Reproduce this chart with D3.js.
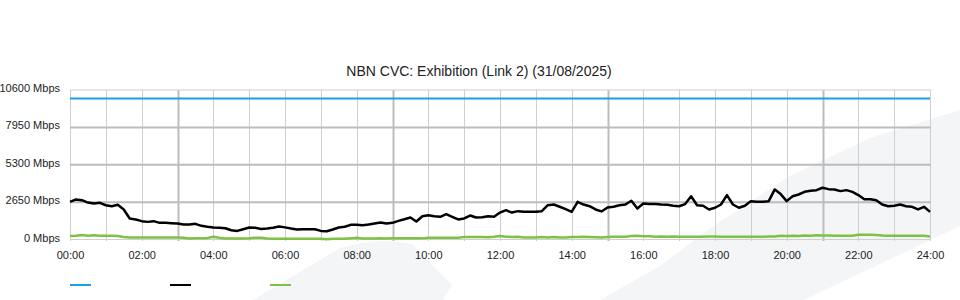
<!DOCTYPE html>
<html>
    <head>
        <meta charset="utf-8">
        <title>NBN CVC: Exhibition (Link 2)</title>
        <script src="https://cdn.jsdelivr.net/npm/d3@7"></script>
        <style>
            body { margin: 0; background: #fff; }
            text { font-family: "Liberation Sans", Arial, sans-serif; fill: #222; }
            .axis path { display: none; }
            .axis line { stroke: #c8c8c8; }
        </style>
    </head>
    <body>
        <div id="chart"></div>
        <script>
            var width = 960, height = 300;
            var plotLeft = 70, plotRight = 930, plotTop = 90, plotBottom = 239.5;

            // y axis ticks (Mbps)
            var yTicks = [0, 2650, 5300, 7950, 10600];
            // x axis ticks (hours) and labels
            var xTicks = [0, 2, 4, 6, 8, 10, 12, 14, 16, 18, 20, 22, 24];
            var xLabels = ["00:00", "02:00", "04:00", "06:00", "08:00", "10:00", "12:00",
                "14:00", "16:00", "18:00", "20:00", "22:00", "24:00"];

            // link capacity (Mbps)
            var capacity = [10000, 10000];

            // 10 minute samples from 00:00 to 24:00 (Mbps)
            var trafficIn = [
                2670, 2840, 2790, 2620, 2550, 2600,
                2430, 2360, 2460, 2130, 1490, 1420,
                1300, 1250, 1300, 1180, 1180, 1160,
                1130, 1060, 1060, 1110, 970, 900,
                850, 830, 800, 660, 610, 730,
                850, 830, 750, 780, 830, 920,
                860, 780, 710, 730, 730, 730,
                610, 590, 710, 850, 900, 1040,
                1040, 1010, 1060, 1130, 1200, 1130,
                1180, 1320, 1440, 1560, 1280, 1650,
                1720, 1650, 1610, 1800, 1610, 1420,
                1490, 1700, 1560, 1580, 1650, 1610,
                1910, 2080, 1910, 2010, 1960, 1960,
                1960, 2010, 2430, 2480, 2320, 2150,
                1960, 2670, 2480, 2360, 2130, 1990,
                2270, 2320, 2430, 2480, 2750, 2200,
                2550, 2510, 2510, 2480, 2460, 2390,
                2360, 2510, 3070, 2430, 2390, 2130,
                2250, 2480, 3150, 2480, 2250, 2390,
                2720, 2670, 2670, 2720, 3550, 3220,
                2720, 3070, 3190, 3380, 3450, 3500,
                3670, 3570, 3550, 3430, 3500, 3380,
                3150, 2860, 2860, 2790, 2480, 2360,
                2390, 2480, 2360, 2320, 2130, 2320,
                1960
            ];

            var trafficOut = [
                250, 260, 320, 260, 300, 260,
                260, 260, 250, 180, 150, 150,
                150, 150, 150, 150, 140, 140,
                140, 130, 70, 90, 80, 110,
                190, 120, 70, 70, 70, 70,
                90, 130, 130, 70, 60, 60,
                60, 60, 60, 60, 60, 60,
                50, 10, 50, 60, 60, 80,
                120, 70, 70, 70, 80, 70,
                80, 80, 80, 80, 80, 80,
                120, 120, 120, 130, 130, 130,
                180, 180, 180, 180, 160, 200,
                250, 200, 180, 200, 140, 140,
                150, 170, 140, 170, 140, 140,
                170, 170, 190, 180, 160, 140,
                170, 200, 200, 200, 250, 260,
                230, 230, 200, 210, 200, 210,
                200, 190, 190, 190, 200, 220,
                210, 200, 190, 200, 200, 200,
                200, 200, 200, 220, 220, 260,
                240, 270, 250, 280, 270, 300,
                280, 280, 270, 260, 270, 270,
                330, 330, 330, 320, 280, 270,
                260, 270, 270, 270, 270, 260,
                210
            ];

            var svg = d3.select("#chart")
                .append("svg")
                .attr("width", width)
                .attr("height", height);

            // faint watermark shapes in the background
            svg.append("path")
                .attr("d", "M253,300 L340,248 Q376,237 412,244 L452,285 L443,300 Z")
                .attr("fill", "#f4f5f7");
            svg.append("path")
                .attr("d", "M600,300 L660,266 L712,227 L790,176 L870,138 L960,110 L960,226 L804,300 Z")
                .attr("fill", "#f4f5f7");

            var xScale = d3.scaleLinear()
                .domain([0, 24])
                .range([plotLeft, plotRight]);

            var yScale = d3.scaleLinear()
                .domain([0, 10600])
                .range([plotBottom, plotTop]);

            // vertical grid, every hour (heavier every 6h from 03:00)
            svg.append("g")
                .selectAll("line")
                .data(d3.range(0, 25))
                .enter()
                .append("line")
                .attr("x1", function (d) { return Math.round(xScale(d)) + 0.5; })
                .attr("x2", function (d) { return Math.round(xScale(d)) + 0.5; })
                .attr("y1", plotTop)
                .attr("y2", plotBottom + 1.5)
                .attr("stroke", function (d) { return d % 6 == 3 ? "#bdbdbd" : "#cfcfcf"; })
                .attr("stroke-width", function (d) { return d % 6 == 3 ? 2 : 1; });

            // horizontal grid
            svg.append("g")
                .selectAll("line")
                .data(yTicks)
                .enter()
                .append("line")
                .attr("x1", plotLeft)
                .attr("x2", plotRight + 1)
                .attr("y1", function (d) { return yScale(d); })
                .attr("y2", function (d) { return yScale(d); })
                .attr("stroke", function (d) { return (d == 0 || d == 10600) ? "#cfcfcf" : "#bdbdbd"; })
                .attr("stroke-width", function (d) { return (d == 0 || d == 10600) ? 1 : 2; });

            // axes (labels only)
            var yAxis = d3.axisLeft(yScale)
                .tickValues(yTicks)
                .tickSize(0)
                .tickPadding(10)
                .tickFormat(function (d) { return d + " Mbps"; });

            svg.append("g")
                .attr("class", "axis")
                .attr("transform", "translate(" + plotLeft + ",0)")
                .call(yAxis)
                .selectAll("text")
                .attr("dy", "0.14em")
                .style("font-size", "11px");

            var xAxis = d3.axisBottom(xScale)
                .tickValues(xTicks)
                .tickSize(0)
                .tickPadding(12)
                .tickFormat(function (d, i) { return xLabels[i]; });

            svg.append("g")
                .attr("class", "axis")
                .attr("transform", "translate(0," + plotBottom + ")")
                .call(xAxis)
                .selectAll("text")
                .style("font-size", "11px");

            // series
            var step = 10 / 60;
            var line = d3.line()
                .x(function (d, i) { return xScale(i * step); })
                .y(function (d) { return yScale(d); });

            svg.append("line")
                .attr("x1", xScale(0))
                .attr("x2", xScale(24))
                .attr("y1", yScale(capacity[0]))
                .attr("y2", yScale(capacity[1]))
                .attr("stroke", "#1ba1e2")
                .attr("stroke-width", 2);

            svg.append("path")
                .datum(trafficOut)
                .attr("d", line)
                .attr("fill", "none")
                .attr("stroke", "#7dc243")
                .attr("stroke-width", 2.5);

            svg.append("path")
                .datum(trafficIn)
                .attr("d", line)
                .attr("fill", "none")
                .attr("stroke", "#000")
                .attr("stroke-width", 2.5)
                .attr("stroke-linejoin", "round");

            // title
            svg.append("text")
                .attr("x", 479)
                .attr("y", 76)
                .attr("text-anchor", "middle")
                .style("font-size", "14px")
                .text("NBN CVC: Exhibition (Link 2) (31/08/2025)");

            // legend swatches
            var legendColors = ["#1ba1e2", "#000", "#7dc243"];
            svg.append("g")
                .selectAll("line")
                .data(legendColors)
                .enter()
                .append("line")
                .attr("x1", function (d, i) { return 70 + i * 100; })
                .attr("x2", function (d, i) { return 91 + i * 100; })
                .attr("y1", 285)
                .attr("y2", 285)
                .attr("stroke", function (d) { return d; })
                .attr("stroke-width", 2);
        </script>
    </body>
</html>
